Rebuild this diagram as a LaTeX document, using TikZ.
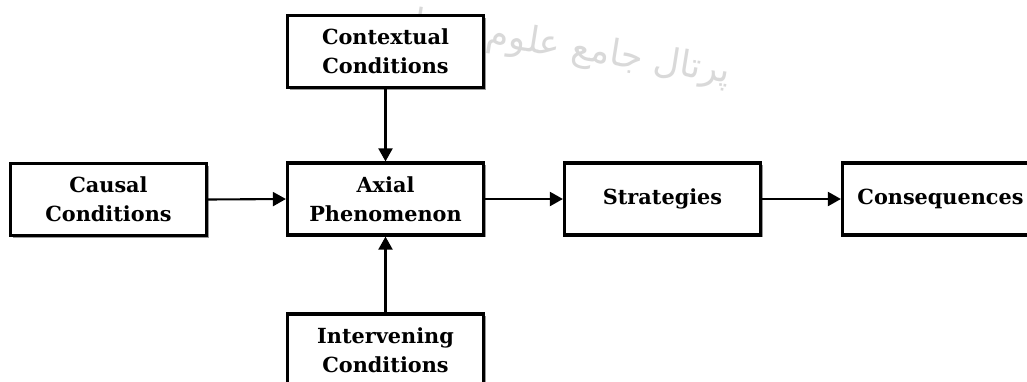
\documentclass[tikz,border=0pt]{standalone}
\usepackage{fontspec}
\setmainfont{DejaVu Serif}
\newfontfamily\arabicfont[Script=Arabic]{DejaVu Sans}
\TeXXeTstate=1
\usetikzlibrary{arrows.meta,shadows}
\tikzset{
  box/.style={draw=black, line width=3.2pt, fill=white, minimum width=196pt, minimum height=72pt,
    align=center, inner sep=0pt, font=\bfseries\fontsize{20.8}{29}\selectfont,
    drop shadow={shadow xshift=2pt, shadow yshift=-2pt, fill=black!40, opacity=1}},
  arr/.style={draw=black, line width=2.1pt, -{Triangle[length=13pt,width=14pt]}},
  wm/.style={text=black!15, font=\arabicfont\fontsize{36}{36}\selectfont}
}
\begin{document}
\begin{tikzpicture}[x=1pt,y=-1pt]
\useasboundingbox (0,0) rectangle (1027,381);
\clip (0,0) rectangle (1027,381);
\fill[white] (0,0) rectangle (1027,381);
\node[wm, rotate=-9] (wmark) at (552,46) {\beginR پرتال جامع علوم انسانی\endR};
\node[box] (ctx) at (385.5,51.5) {Contextual\\Conditions};
\node[box] (cau) at (108.5,199.5) {Causal\\Conditions};
\node[box] (axi) at (385.5,199) {Axial\\Phenomenon};
\node[box] (str) at (662.5,199) {Strategies};
\node[box] (con) at (940.5,199) {Consequences};
\node[box] (int) at (385.5,350) {Intervening\\Conditions};
\draw[arr] (cau.east) -- (axi.west);
\draw[arr] (axi.east) -- (str.west);
\draw[arr] (str.east) -- (con.west);
\draw[arr] (ctx.south) -- (axi.north);
\draw[arr] (int.north) -- (axi.south);
\end{tikzpicture}
\end{document}
